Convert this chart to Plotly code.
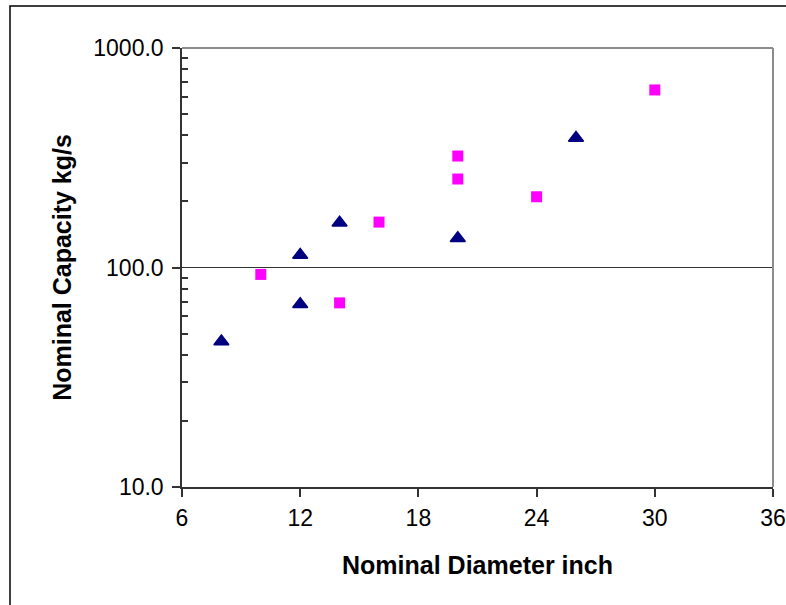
import plotly.graph_objects as go

# Nominal diameter (inch) and nominal capacity (kg/s) for the two series
tri_diameter = [8, 12, 12, 14, 20, 26]
tri_capacity = [46, 114, 68, 160, 136, 389]

sq_diameter = [10, 14, 16, 20, 20, 24, 30]
sq_capacity = [93, 69, 161, 322, 253, 210, 644]

x_ticks = [6, 12, 18, 24, 30, 36]
y_ticks = [10, 100, 1000]
y_tick_text = ["10.0", "100.0", "1000.0"]
y_minor = [20, 30, 40, 50, 60, 70, 80, 90, 200, 300, 400, 500, 600, 700, 800, 900]

W, H = 786, 605
ML, MR, MT, MB = 182, 13, 48, 118
PW, PH = W - ML - MR, H - MT - MB

FONT = "Liberation Sans, Arial, sans-serif"
AXIS_DARK = "#333333"
FRAME_GRAY = "#8c8c8c"

fig = go.Figure()

fig.add_trace(go.Scatter(
    x=tri_diameter, y=tri_capacity, mode="markers",
    marker=dict(symbol="triangle-up", size=13, color="#000080",
                line=dict(width=1.5, color="#000080")),
    showlegend=False,
))
fig.add_trace(go.Scatter(
    x=sq_diameter, y=sq_capacity, mode="markers",
    marker=dict(symbol="square", size=11, color="#FF00FF",
                line=dict(width=0)),
    showlegend=False,
))

fig.update_xaxes(
    range=[6, 36], tickmode="array", tickvals=x_ticks,
    ticks="outside", ticklen=8, tickwidth=1.5, tickcolor=AXIS_DARK,
    showline=True, linecolor=AXIS_DARK, linewidth=1.5,
    showgrid=False, zeroline=False, automargin=False,
    ticklabelstandoff=2,
    tickfont=dict(family=FONT, size=23, color="black"),
    title=dict(text="<b>Nominal Diameter inch</b>", standoff=26,
               font=dict(family=FONT, size=25, color="black")),
)
fig.update_yaxes(
    type="log", range=[1, 3], tickmode="array",
    tickvals=y_ticks, ticktext=y_tick_text,
    ticks="outside", ticklen=8, tickwidth=1.5, tickcolor=AXIS_DARK,
    minor=dict(ticks="inside", ticklen=6, tickwidth=1.5, tickcolor=AXIS_DARK,
               tickmode="array", tickvals=y_minor, showgrid=False),
    showline=True, linecolor=AXIS_DARK, linewidth=1.5,
    showgrid=True, gridcolor=AXIS_DARK, gridwidth=1,
    zeroline=False, automargin=False,
    ticklabelstandoff=4,
    tickfont=dict(family=FONT, size=23, color="black"),
    title=dict(text="<b>Nominal Capacity kg/s</b>", standoff=15,
               font=dict(family=FONT, size=25, color="black")),
)

# gray frame on the top and right of the plot area
fig.add_shape(type="line", xref="paper", yref="paper", x0=0, x1=1, y0=1, y1=1,
              line=dict(color=FRAME_GRAY, width=2), layer="above")
fig.add_shape(type="line", xref="paper", yref="paper", x0=1, x1=1, y0=0, y1=1,
              line=dict(color=FRAME_GRAY, width=2), layer="above")

# outer chart-area border
bx0 = (10 - ML) / PW
by1 = (H - MB - 6) / PH
fig.add_shape(type="rect", xref="paper", yref="paper",
              x0=bx0, x1=(W + 20 - ML) / PW, y0=-(MB + 20) / PH, y1=by1,
              line=dict(color="black", width=1.5), layer="above")

fig.update_layout(
    width=W, height=H,
    margin=dict(l=ML, r=MR, t=MT, b=MB),
    paper_bgcolor="white", plot_bgcolor="white",
    font=dict(family=FONT, color="black"),
)

fig.write_html("out.html")
